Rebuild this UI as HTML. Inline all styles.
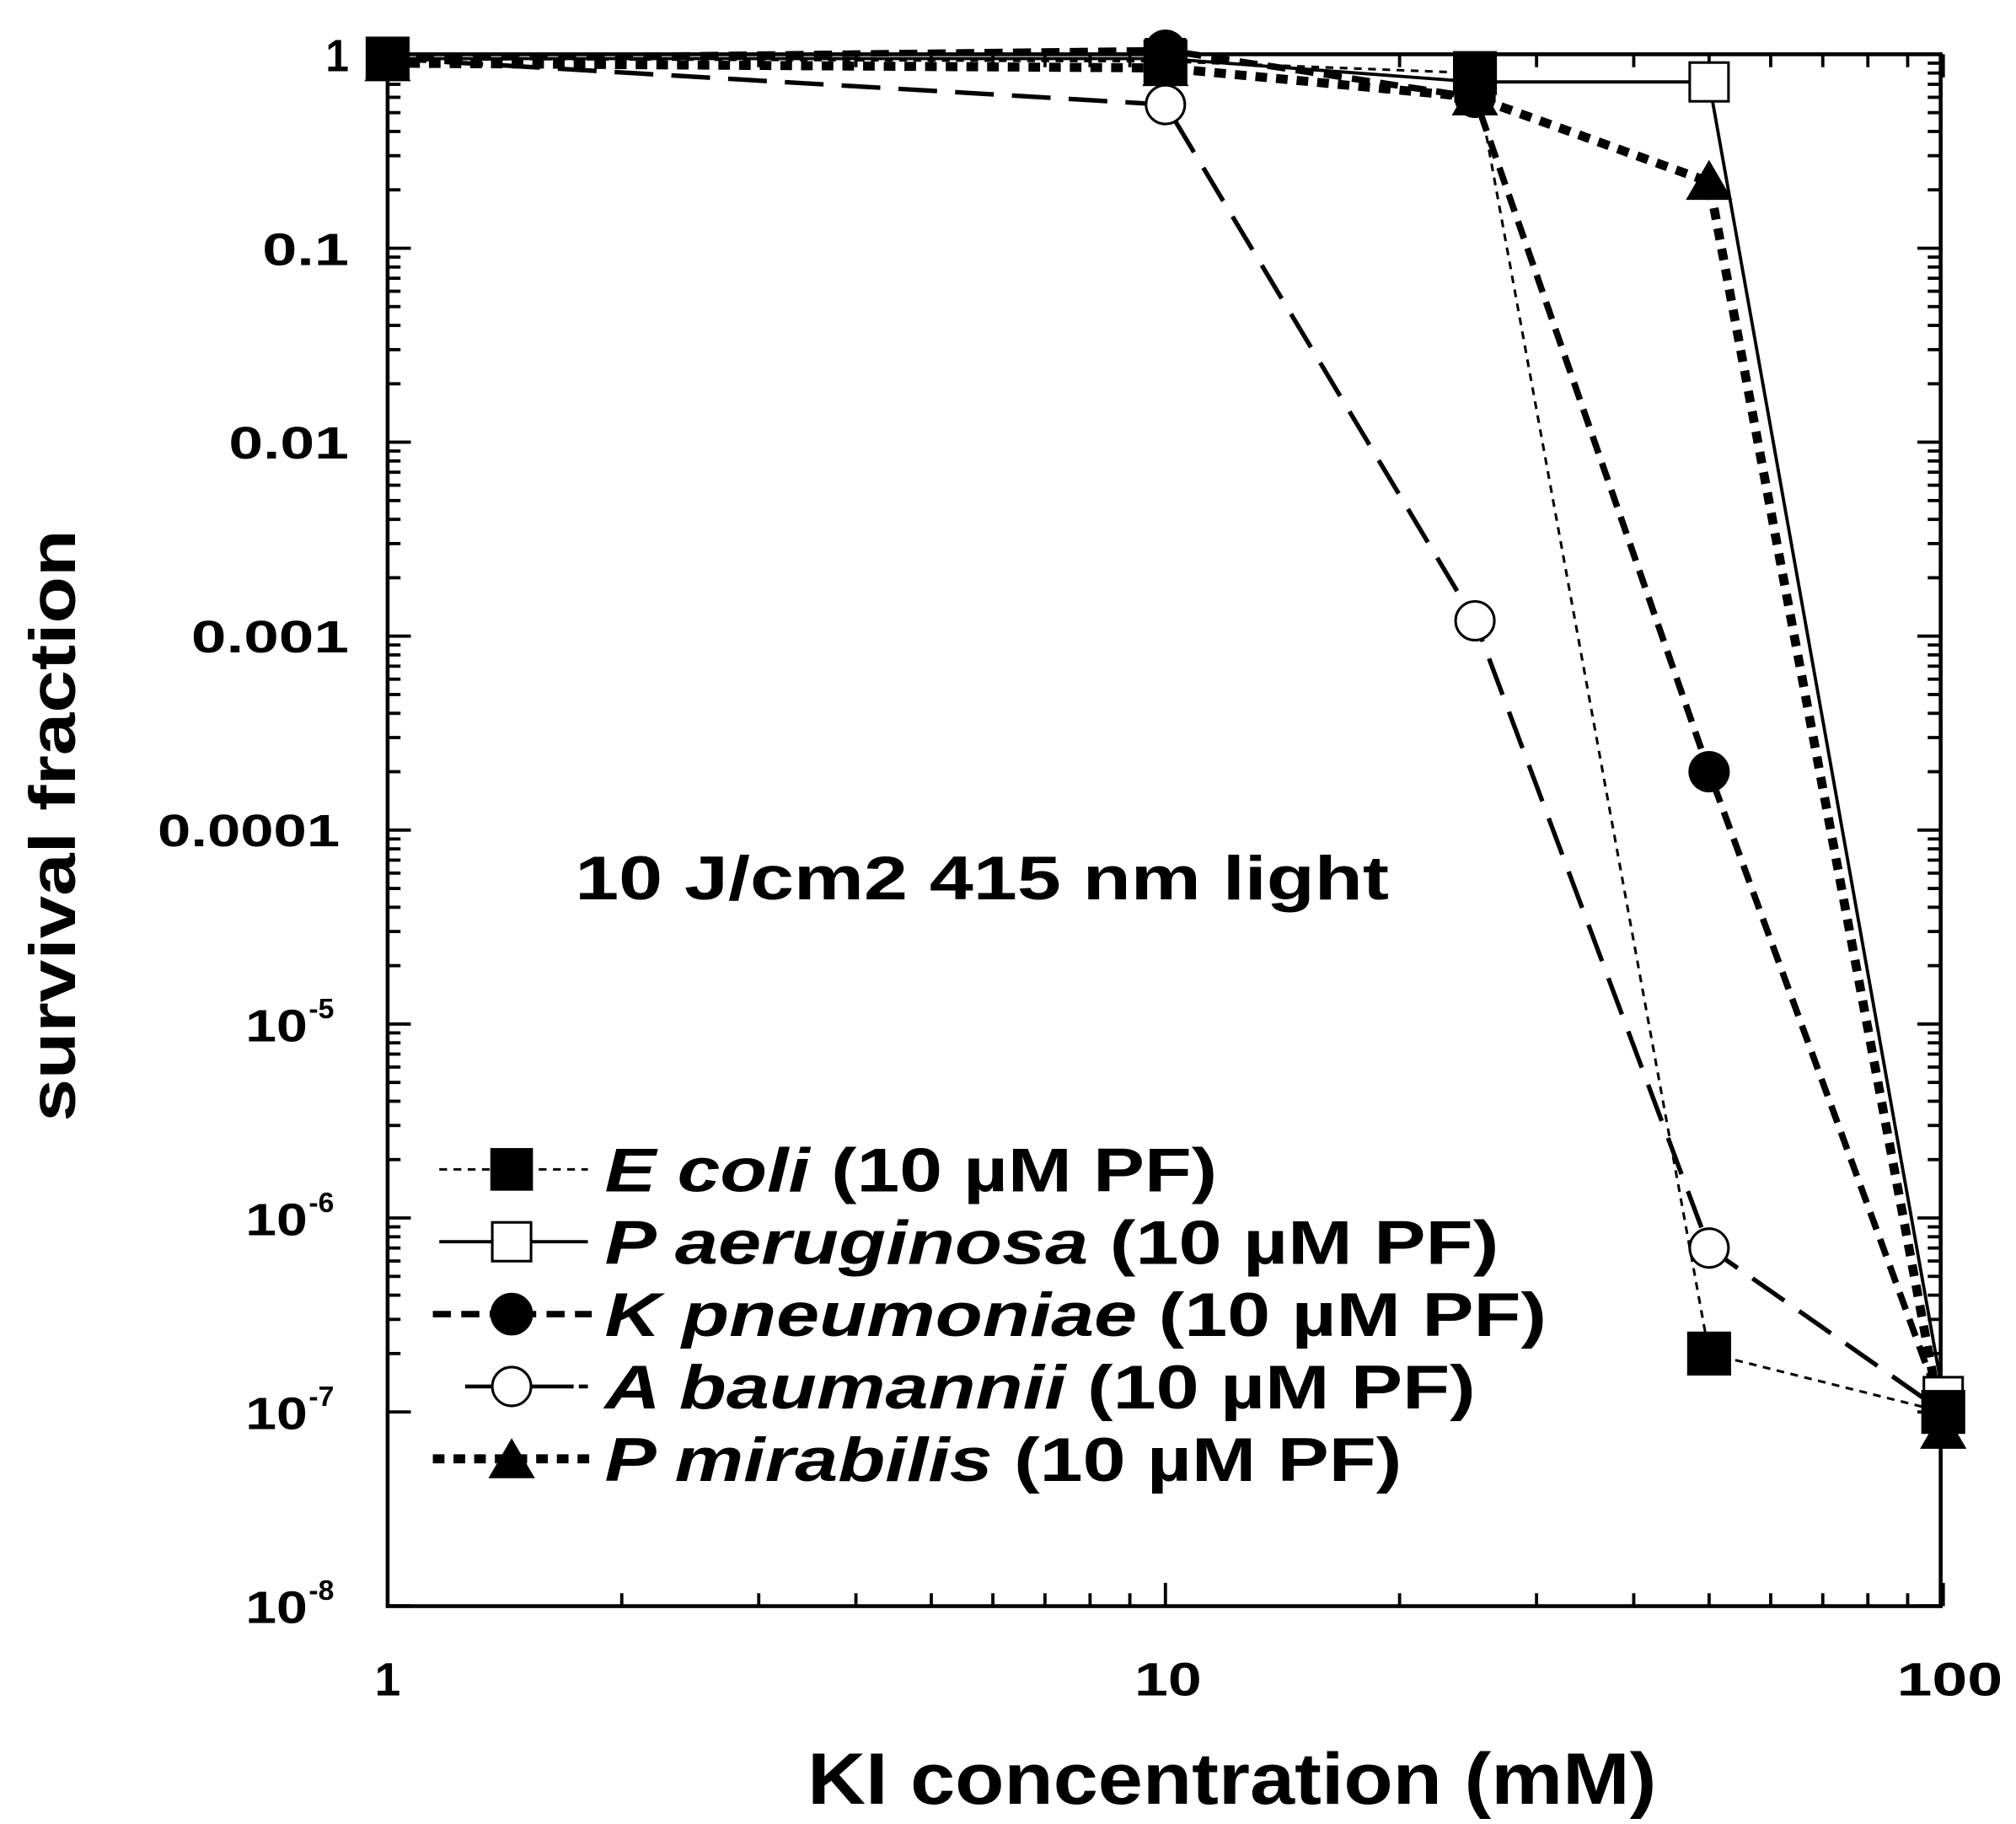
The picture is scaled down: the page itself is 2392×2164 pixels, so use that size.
<!DOCTYPE html>
<html><head><meta charset="utf-8"><style>
html,body{margin:0;padding:0;background:#fff;}
svg{display:block;}
text{font-family:"Liberation Sans",Arial,sans-serif;font-weight:bold;fill:#000;}
</style></head><body>
<svg width="2392" height="2164" viewBox="0 0 1560.3 1411.6" preserveAspectRatio="none" xmlns="http://www.w3.org/2000/svg">
<rect x="0" y="0" width="1560.3" height="1411.6" fill="#fff"/>
<g id="ticks" stroke="#000" stroke-width="2.5">
</g>
<rect x="300" y="42" width="1202" height="1201" fill="none" stroke="#000" stroke-width="3"/>
<g id="series"></g>
<g font-size="35" lengthAdjust="spacingAndGlyphs">
<text x="252" y="55" textLength="18" lengthAdjust="spacingAndGlyphs">1</text>
<text x="203" y="205" textLength="67" lengthAdjust="spacingAndGlyphs">0.1</text>
<text x="177" y="355" textLength="93" lengthAdjust="spacingAndGlyphs">0.01</text>
<text x="148" y="505" textLength="122" lengthAdjust="spacingAndGlyphs">0.001</text>
<text x="122" y="655" textLength="141" lengthAdjust="spacingAndGlyphs">0.0001</text>
<text x="190" y="806" textLength="48" lengthAdjust="spacingAndGlyphs">10</text><text x="239" y="788" font-size="22">-5</text>
<text x="190" y="956" textLength="48" lengthAdjust="spacingAndGlyphs">10</text><text x="239" y="938" font-size="22">-6</text>
<text x="190" y="1106" textLength="48" lengthAdjust="spacingAndGlyphs">10</text><text x="239" y="1088" font-size="22">-7</text>
<text x="190" y="1256" textLength="48" lengthAdjust="spacingAndGlyphs">10</text><text x="239" y="1238" font-size="22">-8</text>
</g>
<g font-size="36">
<text x="290" y="1312" textLength="20" lengthAdjust="spacingAndGlyphs">1</text>
<text x="878" y="1312" textLength="52" lengthAdjust="spacingAndGlyphs">10</text>
<text x="1468" y="1312" textLength="82" lengthAdjust="spacingAndGlyphs">100</text>
</g>
<text x="625" y="1396" font-size="56" textLength="657" lengthAdjust="spacingAndGlyphs">KI concentration (mM)</text>
<text transform="translate(58,868) rotate(-90)" font-size="50" textLength="458" lengthAdjust="spacingAndGlyphs">survival fraction</text>
<text x="445" y="696" font-size="48" textLength="630" lengthAdjust="spacingAndGlyphs">10 J/cm2 415 nm light</text>
<g font-size="48">
<text x="468" y="922" textLength="474" lengthAdjust="spacingAndGlyphs"><tspan font-style="italic">E coli</tspan> (10 µM PF)</text>
<text x="468" y="978" textLength="692" lengthAdjust="spacingAndGlyphs"><tspan font-style="italic">P aeruginosa</tspan> (10 µM PF)</text>
<text x="468" y="1034" textLength="729" lengthAdjust="spacingAndGlyphs"><tspan font-style="italic">K pneumoniae</tspan> (10 µM PF)</text>
<text x="468" y="1090" textLength="674" lengthAdjust="spacingAndGlyphs"><tspan font-style="italic">A baumannii</tspan> (10 µM PF)</text>
<text x="468" y="1146" textLength="617" lengthAdjust="spacingAndGlyphs"><tspan font-style="italic">P mirabilis</tspan> (10 µM PF)</text>
</g>
<g stroke="#000" fill="none">
<line x1="340" y1="905" x2="455" y2="905" stroke-width="2" stroke-dasharray="6,5"/>
<rect x="380" y="889" width="32" height="32" fill="#000"/>
<line x1="340" y1="961" x2="455" y2="961" stroke-width="2.5"/>
<rect x="381" y="946" width="30" height="30" fill="#fff" stroke-width="2"/>
<line x1="335" y1="1017" x2="458" y2="1017" stroke-width="5" stroke-dasharray="14,8"/>
<circle cx="396" cy="1017" r="16" fill="#000"/>
<line x1="360" y1="1073" x2="455" y2="1073" stroke-width="3" stroke-dasharray="40,4"/>
<circle cx="396" cy="1073" r="15" fill="#fff" stroke-width="2"/>
<line x1="335" y1="1129" x2="458" y2="1129" stroke-width="7" stroke-dasharray="9,7"/>
<polygon points="396,1113 414,1144 378,1144" fill="#000" stroke="none"/>
</g>
<script>
(function(){
var NS="http://www.w3.org/2000/svg";
function X(v){return 300+602*Math.log10(v);}
function Y(v){return 42-150.1*Math.log10(v);}
var t=document.getElementById('ticks');
function ln(x1,y1,x2,y2){var l=document.createElementNS(NS,'line');l.setAttribute('x1',x1);l.setAttribute('y1',y1);l.setAttribute('x2',x2);l.setAttribute('y2',y2);t.appendChild(l);}
for(var d=0;d>=-8;d--){for(var m=1;m<=9;m++){if(d==-8&&m>1)break;var v=m*Math.pow(10,d-0);var y=Y(v);if(y<42||y>1243.5)continue;var L=(m==1)?18:10;ln(300,y,300+L,y);ln(1502,y,1502-L,y);}}
for(var d=0;d<=2;d++){for(var m=1;m<=9;m++){if(d==2&&m>1)break;var x=X(m*Math.pow(10,d));var L=(m==1)?18:10;ln(x,1243,x,1243-L);ln(x,42,x,42+L);}}
var s=document.getElementById('series');
function path(pts,sw,dash){var p=document.createElementNS(NS,'polyline');p.setAttribute('points',pts.map(function(q){return X(q[0])+','+Y(q[1]);}).join(' '));p.setAttribute('fill','none');p.setAttribute('stroke','#000');p.setAttribute('stroke-width',sw);if(dash)p.setAttribute('stroke-dasharray',dash);s.appendChild(p);}
function el(tag,attrs){var e=document.createElementNS(NS,tag);for(var k in attrs)e.setAttribute(k,attrs[k]);s.appendChild(e);}
var ec=[[1,0.95],[10,0.92],[25,0.8],[50,2e-7],[100,1e-7]];
var pa=[[1,0.95],[10,0.95],[25,0.72],[50,0.72],[100,1.2e-7]];
var kp=[[1,0.95],[10,1.05],[25,0.6],[50,2e-4],[100,1e-7]];
var ab=[[1,0.95],[10,0.55],[25,1.2e-3],[50,7e-7],[100,1e-7]];
var pm=[[1,0.9],[10,0.85],[25,0.6],[50,0.22],[100,8e-8]];
path(pa,2.5,null);
path(ec,2,'6,5');
path(kp,5,'14,8');
path(ab,3.5,'30,14');
path(pm,7,'9,7');
pa.forEach(function(q){el('rect',{x:X(q[0])-15,y:Y(q[1])-15,width:30,height:30,fill:'#fff',stroke:'#000','stroke-width':2});});
ab.slice(0,4).forEach(function(q){el('circle',{cx:X(q[0]),cy:Y(q[1]),r:15,fill:'#fff',stroke:'#000','stroke-width':2});});
kp.forEach(function(q){el('circle',{cx:X(q[0]),cy:Y(q[1]),r:16,fill:'#000'});});
ec.forEach(function(q){el('rect',{x:X(q[0])-17,y:Y(q[1])-17,width:34,height:34,fill:'#000'});});
pm.forEach(function(q){var x=X(q[0]),y=Y(q[1]);el('polygon',{points:x+','+(y-17)+' '+(x+18)+','+(y+14)+' '+(x-18)+','+(y+14),fill:'#000'});});
})();
</script>
</svg>
</body></html>
